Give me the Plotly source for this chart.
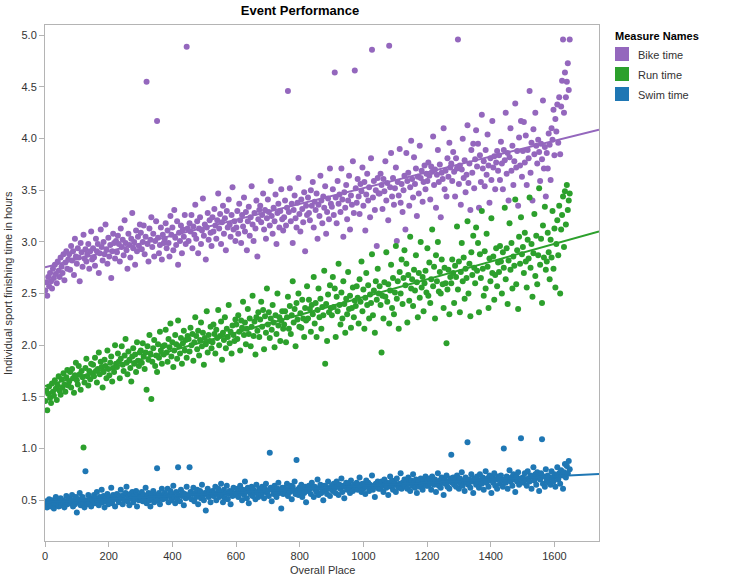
import numpy as np
import plotly.graph_objects as go

# Overall place of each plotted athlete (every 3rd finisher)
place_step = 3
# Finishing times, in hundredths of an hour
bike_time_x100 = [
    253, 261, 248, 266, 257, 270, 262, 255, 274, 265, 278, 269, 260, 281, 272, 266, 285, 276, 270, 288, 263, 280, 291, 274, 283,
    288, 273, 296, 282, 291, 268, 303, 286, 279, 294, 285, 262, 299, 290, 276, 307, 284, 293, 281, 288, 298, 274, 291, 310, 283,
    294, 285, 277, 303, 291, 298, 270, 289, 312, 295, 282, 300, 288, 317, 293, 279, 304, 286, 297, 265, 291, 308, 299, 284, 301,
    290, 306, 298, 281, 313, 295, 302, 287, 321, 299, 292, 274, 308, 297, 285, 303, 328, 294, 300, 278, 311, 291, 305, 296, 317,
    309, 293, 300, 316, 288, 305, 455, 298, 281, 313, 302, 324, 295, 308, 286, 301, 320, 417, 304, 289, 297, 314, 283, 307, 299,
    303, 318, 294, 311, 299, 286, 325, 307, 314, 292, 331, 304, 297, 320, 278, 309, 301, 316, 289, 312, 305, 326, 298, 489, 313,
    301, 318, 310, 326, 294, 315, 307, 336, 303, 320, 289, 313, 324, 298, 311, 342, 306, 317, 283, 314, 328, 302, 321, 309, 296,
    324, 310, 332, 316, 303, 321, 347, 313, 327, 298, 319, 335, 308, 323, 292, 330, 314, 341, 317, 305, 326, 353, 312, 320, 301,
    314, 330, 308, 337, 321, 299, 326, 315, 343, 310, 329, 292, 320, 334, 306, 324, 354, 317, 301, 328, 313, 340, 286, 322, 331,
    335, 319, 326, 347, 312, 331, 303, 323, 341, 329, 316, 359, 325, 308, 333, 320, 346, 298, 328, 337, 314, 330, 351, 322, 311,
    324, 340, 316, 333, 446, 329, 352, 320, 337, 299, 331, 345, 323, 314, 338, 362, 327, 310, 341, 332, 319, 348, 291, 335, 326,
    343, 328, 321, 350, 335, 358, 314, 339, 331, 347, 303, 336, 325, 364, 340, 318, 344, 333, 354, 308, 329, 342, 322, 371, 337,
    334, 351, 326, 464, 343, 318, 359, 337, 346, 329, 371, 341, 305, 348, 333, 355, 322, 340, 364, 312, 345, 336, 378, 328, 466,
    352, 338, 361, 344, 327, 356, 349, 372, 335, 358, 311, 346, 366, 340, 353, 324, 381, 486, 343, 359, 331, 350, 296, 362, 347,
    347, 366, 355, 332, 361, 349, 378, 340, 357, 321, 490, 353, 386, 344, 362, 336, 352, 372, 301, 358, 345, 390, 338, 356, 329,
    350, 364, 312, 386, 359, 367, 335, 353, 398, 361, 343, 382, 356, 371, 325, 363, 347, 393, 362, 369, 339, 358, 374, 351, 366,
    359, 377, 364, 341, 373, 368, 402, 355, 370, 333, 365, 389, 358, 375, 324, 367, 361, 410, 351, 369, 344, 381, 363, 396, 372,
    376, 359, 387, 368, 344, 381, 371, 496, 356, 374, 336, 370, 400, 362, 379, 348, 365, 413, 357, 376, 331, 389, 367, 395, 352,
    380, 408, 373, 395, 333, 384, 358, 423, 371, 378, 354, 389, 365, 404, 374, 338, 381, 360, 417, 372, 383, 351, 377, 388, 369,
    384, 360, 397, 376, 351, 389, 379, 425, 366, 386, 340, 382, 410, 369, 393, 355, 378, 434, 372, 388, 335, 401, 374, 417, 363,
    388, 416, 377, 403, 355, 389, 381, 446, 367, 396, 340, 409, 385, 425, 393, 376, 399, 387, 359, 395, 380, 437, 371, 392, 344,
    386, 371, 405, 394, 360, 410, 399, 428, 384, 419, 407, 433, 396, 440, 385, 431, 456, 496, 425, 464, 440, 455, 473, 447, 496,
]
run_time_x100 = [
    146, 156, 137, 153, 160, 149, 144, 163, 155, 151, 166, 158, 147, 161, 170, 156, 152, 167, 159, 173, 162, 155, 169, 176, 161,
    165, 174, 159, 177, 168, 154, 171, 183, 166, 162, 180, 172, 157, 175, 169, 101, 164, 178, 187, 170, 161, 175, 167, 182, 173,
    181, 170, 188, 175, 164, 177, 193, 172, 184, 179, 159, 174, 186, 180, 168, 195, 177, 171, 183, 189, 165, 178, 174, 200, 182,
    179, 192, 184, 168, 187, 199, 181, 175, 190, 206, 183, 172, 194, 186, 178, 165, 189, 197, 182, 191, 174, 203, 185, 180, 193,
    195, 183, 202, 189, 177, 193, 157, 199, 186, 210, 192, 148, 184, 197, 205, 180, 190, 174, 201, 188, 213, 195, 182, 199, 191,
    200, 215, 193, 184, 206, 198, 221, 189, 203, 179, 195, 210, 201, 187, 224, 199, 192, 207, 182, 202, 214, 195, 205, 188, 209,
    206, 194, 217, 200, 211, 185, 203, 227, 209, 196, 214, 190, 205, 222, 199, 212, 181, 207, 201, 233, 193, 210, 204, 218, 197,
    203, 220, 211, 192, 215, 207, 234, 200, 209, 223, 186, 212, 205, 227, 197, 216, 208, 239, 202, 213, 192, 219, 210, 204, 225,
    220, 206, 229, 213, 195, 224, 217, 242, 210, 222, 201, 216, 235, 211, 226, 199, 218, 248, 209, 223, 191, 227, 214, 232, 208,
    225, 242, 218, 234, 196, 228, 212, 255, 220, 232, 207, 226, 215, 239, 222, 198, 229, 211, 250, 219, 227, 204, 224, 233, 216,
    220, 233, 203, 227, 247, 216, 238, 211, 229, 262, 222, 235, 199, 241, 225, 250, 218, 231, 217, 244, 226, 208, 236, 224, 257,
    226, 244, 235, 213, 239, 230, 266, 221, 241, 208, 234, 255, 227, 245, 216, 237, 229, 272, 182, 240, 204, 249, 232, 258, 236,
    229, 266, 237, 255, 208, 247, 233, 279, 239, 220, 251, 226, 262, 240, 212, 245, 230, 271, 235, 248, 217, 236, 256, 227, 243,
    238, 257, 246, 221, 264, 242, 281, 233, 254, 216, 246, 270, 239, 258, 226, 249, 241, 288, 229, 253, 212, 262, 244, 274, 250,
    257, 239, 193, 248, 226, 261, 247, 290, 242, 259, 221, 253, 278, 236, 265, 230, 251, 296, 245, 262, 216, 271, 250, 283, 240,
    265, 292, 258, 279, 222, 268, 243, 305, 255, 264, 238, 273, 253, 287, 261, 227, 270, 246, 300, 256, 266, 233, 260, 272, 251,
    294, 248, 280, 241, 264, 312, 257, 276, 226, 287, 262, 300, 252, 271, 250, 283, 259, 236, 275, 260, 202, 254, 273, 230, 266,
    260, 283, 270, 241, 277, 266, 315, 254, 281, 232, 271, 299, 262, 285, 245, 274, 265, 320, 250, 279, 228, 290, 268, 306, 275,
    260, 314, 272, 299, 232, 288, 265, 330, 274, 248, 291, 255, 308, 276, 236, 284, 262, 323, 270, 286, 244, 268, 294, 257, 280,
    271, 296, 281, 250, 290, 275, 333, 264, 294, 240, 282, 318, 273, 299, 255, 286, 277, 341, 259, 292, 235, 305, 279, 324, 288,
    295, 270, 309, 281, 256, 302, 284, 343, 275, 298, 247, 289, 327, 267, 306, 259, 287, 352, 278, 303, 241, 316, 285, 334, 273,
    281, 309, 290, 264, 302, 285, 330, 274, 313, 256, 298, 321, 287, 335, 250, 312, 326, 344, 295, 349, 317, 355, 331, 340, 347,
]
swim_time_x100 = [
    45, 49, 43, 47, 51, 46, 44, 50, 48, 42, 47, 53, 46, 49, 44, 48, 52, 45, 50, 47, 43, 49, 54, 46, 48,
    52, 47, 49, 55, 44, 50, 46, 53, 38, 48, 51, 57, 45, 49, 53, 47, 43, 78, 50, 46, 55, 48, 52, 44, 51,
    50, 55, 47, 52, 58, 49, 45, 53, 51, 60, 48, 54, 43, 52, 49, 56, 46, 53, 50, 62, 47, 55, 51, 44, 54,
    56, 51, 48, 54, 60, 52, 46, 55, 50, 57, 63, 49, 53, 45, 56, 52, 58, 48, 54, 51, 59, 44, 55, 50, 53,
    53, 58, 49, 55, 51, 62, 47, 54, 57, 50, 44, 56, 52, 59, 48, 55, 53, 81, 50, 57, 46, 54, 61, 51, 55,
    57, 52, 55, 61, 48, 54, 59, 50, 56, 64, 53, 47, 58, 51, 82, 55, 49, 60, 54, 57, 45, 56, 52, 63, 53,
    55, 82, 58, 51, 56, 62, 49, 57, 53, 60, 46, 55, 59, 52, 65, 54, 50, 57, 40, 56, 61, 53, 58, 48, 56,
    59, 54, 57, 63, 50, 56, 61, 53, 58, 66, 55, 48, 60, 52, 57, 64, 51, 56, 59, 46, 58, 54, 62, 55, 57,
    56, 61, 53, 59, 64, 57, 50, 60, 55, 68, 58, 52, 62, 47, 59, 56, 63, 54, 60, 57, 51, 65, 58, 53, 61,
    60, 55, 63, 58, 52, 61, 66, 57, 59, 54, 96, 62, 49, 60, 56, 64, 58, 53, 61, 67, 57, 59, 42, 62, 56,
    62, 57, 60, 66, 54, 61, 58, 64, 51, 63, 59, 68, 56, 89, 60, 55, 62, 58, 65, 53, 61, 57, 63, 48, 60,
    59, 64, 61, 56, 67, 62, 53, 63, 60, 58, 70, 55, 62, 65, 57, 61, 50, 64, 59, 63, 56, 68, 61, 54, 62,
    64, 59, 66, 62, 57, 68, 63, 55, 65, 61, 71, 58, 64, 52, 63, 67, 60, 66, 62, 57, 69, 63, 59, 65, 61,
    62, 67, 60, 65, 72, 63, 58, 66, 61, 64, 56, 69, 63, 67, 59, 65, 62, 74, 60, 64, 53, 66, 63, 68, 61,
    66, 61, 68, 64, 58, 70, 65, 62, 67, 55, 66, 73, 63, 69, 60, 65, 67, 58, 71, 64, 62, 66, 76, 61, 67,
    65, 70, 63, 68, 61, 72, 66, 59, 69, 64, 75, 67, 62, 70, 57, 66, 68, 63, 71, 65, 60, 69, 66, 73, 64,
    69, 64, 71, 66, 60, 73, 68, 65, 70, 58, 67, 76, 64, 69, 62, 72, 67, 55, 70, 66, 74, 63, 68, 61, 71,
    94, 67, 72, 65, 70, 63, 74, 68, 61, 71, 66, 77, 64, 69, 59, 72, 67, 106, 65, 70, 62, 75, 68, 57, 71,
    70, 65, 73, 68, 62, 75, 69, 66, 72, 60, 70, 78, 67, 71, 63, 74, 69, 57, 72, 67, 76, 64, 70, 61, 73,
    71, 66, 74, 69, 63, 100, 70, 67, 73, 61, 71, 79, 68, 72, 64, 75, 70, 58, 73, 68, 77, 65, 71, 110, 69,
    72, 67, 76, 70, 64, 78, 71, 68, 74, 61, 73, 82, 69, 75, 65, 77, 72, 59, 70, 76, 109, 66, 73, 63, 80,
    69, 74, 67, 72, 65, 78, 71, 68, 75, 63, 73, 82, 70, 76, 66, 79, 74, 61, 77, 85, 72, 83, 76, 88, 80,
]

series_names = ["Bike time", "Run time", "Swim time"]
series_values = [bike_time_x100, run_time_x100, swim_time_x100]
series_colors = ["#9467bd", "#2ca02c", "#1f77b4"]

x_range = [0, 1740]
y_range = [0.105, 5.1]
x_ticks = [0, 200, 400, 600, 800, 1000, 1200, 1400, 1600]
y_ticks = [0.5, 1.0, 1.5, 2.0, 2.5, 3.0, 3.5, 4.0, 4.5, 5.0]

FONT = "Liberation Sans, Arial, sans-serif"
W, H = 751, 581
ML, MR, MT, MB = 45, 152, 25, 40
PW, PH = W - ML - MR, H - MT - MB


def px_x(px):
    return (px - ML) / PW


def px_y(py):
    return (H - MB - py) / PH


fig = go.Figure()
for name, vals, col in zip(series_names, series_values, series_colors):
    y = np.array(vals, dtype=float) / 100.0
    x = np.array([1 + place_step * i for i in range(len(y))], dtype=float)
    fig.add_trace(go.Scatter(
        x=x, y=y, mode="markers", name=name, showlegend=False,
        marker=dict(size=6, color=col, line=dict(width=0)),
    ))
    slope, icpt = np.polyfit(x, y, 1)
    lx = np.array(x_range, dtype=float)
    fig.add_trace(go.Scatter(
        x=lx, y=icpt + slope * lx, mode="lines", showlegend=False,
        line=dict(color=col, width=2), hoverinfo="skip",
    ))

axis_common = dict(
    showgrid=False, zeroline=False, showline=True, linecolor="#b4b4b4",
    linewidth=1, mirror=True, ticks="outside", tickcolor="#b4b4b4",
    ticklen=5, automargin=False,
    tickfont=dict(family=FONT, size=11, color="#333333"),
)

annotations = [
    dict(text="Overall Place", xref="paper", yref="paper", x=0.5, y=px_y(570),
         xanchor="center", yanchor="middle", showarrow=False,
         font=dict(family=FONT, size=11, color="#333333")),
    dict(text="Individual sport finishing time in hours", xref="paper", yref="paper",
         x=px_x(8), y=0.5, xanchor="center", yanchor="middle", textangle=-90,
         showarrow=False, font=dict(family=FONT, size=11, color="#333333")),
    dict(text="<b>Measure Names</b>", xref="paper", yref="paper", x=px_x(613), y=px_y(36),
         xanchor="left", yanchor="middle", showarrow=False,
         font=dict(family=FONT, size=11, color="#000000")),
]
shapes = []
for i, (name, col) in enumerate(zip(series_names, series_colors)):
    top = 47 + 20 * i
    shapes.append(dict(type="rect", xref="paper", yref="paper",
                       x0=px_x(615), x1=px_x(629), y0=px_y(top + 14), y1=px_y(top),
                       fillcolor=col, line=dict(width=0)))
    annotations.append(dict(text=name, xref="paper", yref="paper", x=px_x(636),
                            y=px_y(top + 8), xanchor="left", yanchor="middle",
                            showarrow=False,
                            font=dict(family=FONT, size=11, color="#333333")))

fig.update_layout(
    width=W, height=H,
    margin=dict(l=ML, r=MR, t=MT, b=MB, pad=0),
    plot_bgcolor="white", paper_bgcolor="white",
    font=dict(family=FONT, size=11, color="#333333"),
    showlegend=False,
    title=dict(text="<b>Event Performance</b>", x=300 / W, xref="container",
               xanchor="center", y=1 - 10 / H, yref="container", yanchor="middle",
               font=dict(family=FONT, size=13, color="#000000")),
    xaxis=dict(range=x_range, tickvals=x_ticks, **axis_common),
    yaxis=dict(range=y_range, tickvals=y_ticks, tickformat=".1f", **axis_common),
    annotations=annotations,
    shapes=shapes,
)

fig.write_html("out.html")
